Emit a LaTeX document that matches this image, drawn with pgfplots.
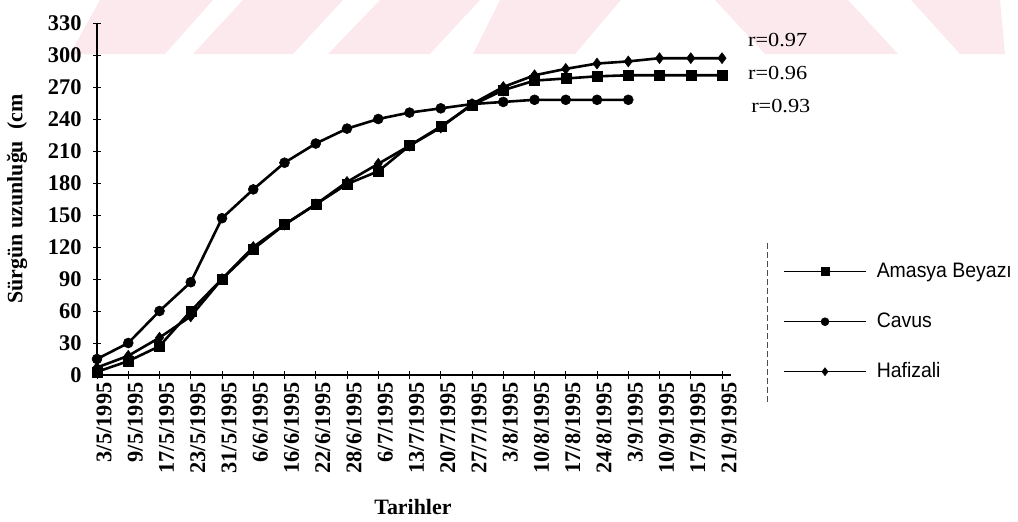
\documentclass[border=0pt]{standalone}
\usepackage{fontspec}
\setmainfont{Liberation Serif}
\newfontfamily\legfont[FakeStretch=0.93]{Liberation Sans}
\newfontfamily\rfont[FakeStretch=1.12]{Liberation Serif}
\usepackage{pgfplots}
\pgfplotsset{compat=1.18}
\definecolor{wm}{RGB}{252,233,237}
\begin{document}
\begin{tikzpicture}
\useasboundingbox (0,0) rectangle (1018bp,-522bp);
\begin{scope}[x=1bp,y=-1bp]
\fill[wm] (70,54)--(165,54)--(213,0)--(100,0)--cycle;
\fill[wm] (193,54)--(293,54)--(343,0)--(243,0)--cycle;
\fill[wm] (328,54)--(430,54)--(480,0)--(380,0)--cycle;
\fill[wm] (473,54)--(575,54)--(621,0)--(500,0)--cycle;
\fill[wm] (765,54)--(898,54)--(848,0)--(715,0)--cycle;
\fill[wm] (960,54)--(1005,54)--(1000,0)--(911,0)--cycle;
\end{scope}
\begin{axis}[
  at={(97bp,-375bp)}, anchor=south west,
  scale only axis, width=634.4bp, height=352bp,
  xmin=0, xmax=20.3, ymin=0, ymax=330,
  axis lines=left, axis line style={-, line width=1.3bp},
  tick align=center, major tick length=8bp,
  tick style={line width=1bp, black},
  xtick={0,...,20},
  xticklabels={3/5/1995,9/5/1995,17/5/1995,23/5/1995,31/5/1995,6/6/1995,16/6/1995,22/6/1995,28/6/1995,6/7/1995,13/7/1995,20/7/1995,27/7/1995,3/8/1995,10/8/1995,17/8/1995,24/8/1995,3/9/1995,10/9/1995,17/9/1995,21/9/1995},
  ytick={0,30,...,330},
  /pgf/number format/assume math mode=true,
  tick label style={font=\fontsize{22.5}{22.5}\selectfont\bfseries},
  xticklabel style={rotate=90, anchor=east, yshift=-7bp},
  yticklabel style={xshift=-8bp},
  xlabel={Tarihler},
  ylabel={Sürgün uzunluğu\ \ (cm},
  label style={font=\fontsize{22}{22}\selectfont\bfseries},
  xlabel style={at={(axis description cs:0.498,-0.375)}, anchor=center},
  ylabel style={at={(axis description cs:-0.126,0.5)}, anchor=center},
  clip=false,
  every axis plot/.append style={line width=2.6bp, black},
  legend cell align=left,
  legend image code/.code={\draw[#1, line width=1.5bp, mark size=4bp, mark repeat=2, mark phase=2] plot coordinates {(0bp,0bp) (41bp,0bp) (82bp,0bp)};},
  legend style={at={(axis description cs:1.0814,0.321)}, anchor=north west, draw=none, fill=none,
    font=\legfont\fontsize{21}{21}\selectfont, row sep=31bp, inner sep=0pt,
    nodes={inner sep=0pt, text height=15bp, text depth=4bp},
    /tikz/every odd column/.append style={column sep=10bp}},
]
\addplot[mark=square*, mark size=5bp, mark options={solid, line width=0.5bp}] coordinates {
(0,3) (1,13) (2,27) (3,60) (4,90) (5,118) (6,141) (7,160) (8,179) (9,191) (10,215)
(11,233) (12,253) (13,267) (14,276) (15,278) (16,280) (17,281) (18,281) (19,281) (20,281)};
\addlegendentry{Amasya Beyazı}
\addplot[mark=*, mark size=5bp, mark options={solid, line width=0.5bp}] coordinates {
(0,15) (1,30) (2,60) (3,87) (4,147) (5,174) (6,199) (7,217) (8,231) (9,240) (10,246)
(11,250) (12,254) (13,256) (14,258) (15,258) (16,258) (17,258)};
\addlegendentry{Cavus}
\addplot[mark=diamond*, mark size=5.5bp, mark options={solid, line width=0.5bp}] coordinates {
(0,7) (1,18) (2,35) (3,55) (4,90) (5,120) (6,141) (7,160) (8,181) (9,198) (10,215)
(11,232) (12,254) (13,270) (14,281) (15,287) (16,292) (17,294) (18,297) (19,297) (20,297)};
\addlegendentry{Hafizali}
\node[anchor=west, font=\rfont\fontsize{20}{20}\selectfont, inner sep=0pt] at (axis cs:20.83,314) {r=0.97};
\node[anchor=west, font=\rfont\fontsize{20}{20}\selectfont, inner sep=0pt] at (axis cs:20.83,283) {r=0.96};
\node[anchor=west, font=\rfont\fontsize{20}{20}\selectfont, inner sep=0pt] at (axis cs:20.93,252) {r=0.93};
\draw[black!70, line width=0.8bp, dash pattern=on 6bp off 3bp] (axis description cs:1.0561,0.375) -- (axis description cs:1.0561,-0.0795);
\end{axis}
\end{tikzpicture}
\end{document}
